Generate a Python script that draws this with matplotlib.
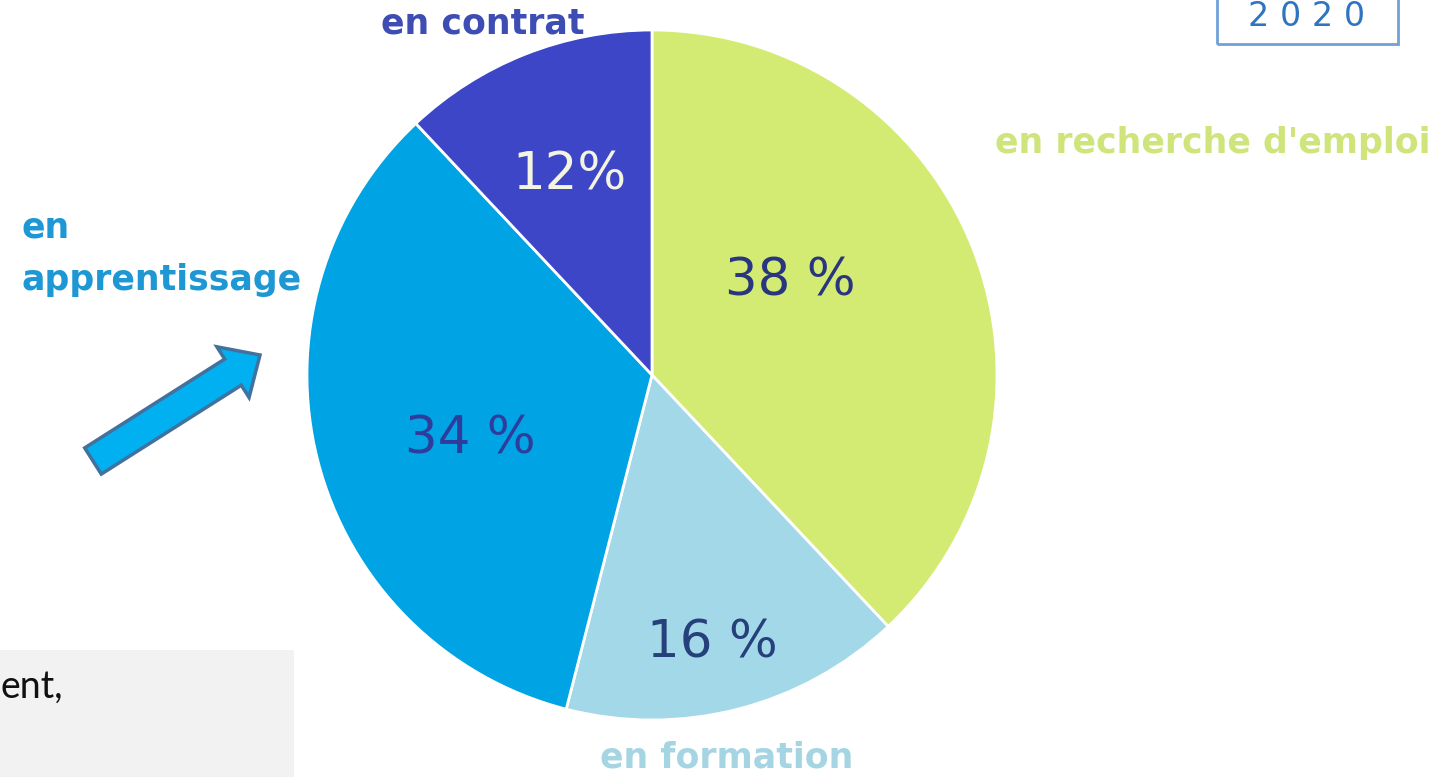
import matplotlib
matplotlib.use('Agg')
import matplotlib.pyplot as plt
from matplotlib.patches import Rectangle, FancyArrow

# data
categories = ["en recherche d'emploi", "en formation", "en apprentissage", "en contrat"]
shares = [38, 16, 34, 12]
pct_labels = ["38 %", "16 %", "34 %", "12%"]
year_label = "2 0 2 0"

slice_colors = ['#D3EB72', '#A2D8E8', '#00A3E3', '#3C46C6']
label_colors = ['#CFE57C', '#A5D5E3', '#1E98D4', '#3E4DB3']
pct_colors = ['#2A3580', '#25407A', '#2E3C9C', '#F4F4E2']

W, H = 1450, 777


def Y(y):
    # pixel row (top-down) -> axis coord (bottom-up)
    return H - y


fig = plt.figure(figsize=(14.5, 7.77), dpi=100)
ax = fig.add_axes([0, 0, 1, 1])

ax.pie(shares, colors=slice_colors, startangle=90, counterclock=False,
       center=(652, Y(375)), radius=345,
       wedgeprops=dict(edgecolor='white', linewidth=2))

ax.set_xlim(0, W)
ax.set_ylim(0, H)
ax.axis('off')

# percentages inside the slices (baseline positions)
pct_pos = [(790, 295), (712, 657), (470, 453), (570, 190)]
for txt, (x, y), c in zip(pct_labels, pct_pos, pct_colors):
    ax.text(x, Y(y), txt, ha='center', va='baseline', fontsize=37, color=c)

# category labels
lab_font = dict(fontsize=25, fontweight='bold', va='baseline')
ax.text(995, Y(153), categories[0], ha='left', color=label_colors[0], **lab_font)
ax.text(727, Y(767), categories[1], ha='center', color=label_colors[1], **lab_font)
ax.text(22, Y(237), categories[2].split()[0], ha='left', color=label_colors[2], **lab_font)
ax.text(22, Y(290), categories[2].split()[1], ha='left', color=label_colors[2], **lab_font)
ax.text(483, Y(33), categories[3], ha='center', color=label_colors[3], **lab_font)

# arrow pointing at "en apprentissage"
ax.add_patch(FancyArrow(93, Y(461), 167, 106, width=31, head_width=60,
                        head_length=32, length_includes_head=True,
                        fc='#00B0F0', ec='#41719C', lw=2.5, zorder=3))

# year box, top right (cut by the edge)
ax.add_patch(Rectangle((1217, Y(44)), 181, 60, fill=False,
                       ec='#6FA0D8', lw=2, clip_on=True))
ax.text(1307, Y(26), year_label, ha='center', va='baseline',
        fontsize=24, color='#2F74C0')

# grey note box, bottom left (cut by the edge)
ax.add_patch(Rectangle((0, 0), 294, Y(650), fc='#F2F2F2', ec='none', zorder=0))
ax.text(0, Y(698), "ent,", ha='left', va='baseline', fontsize=27,
        family='Lato', color='#111111')

plt.savefig('out.png', dpi=100)
